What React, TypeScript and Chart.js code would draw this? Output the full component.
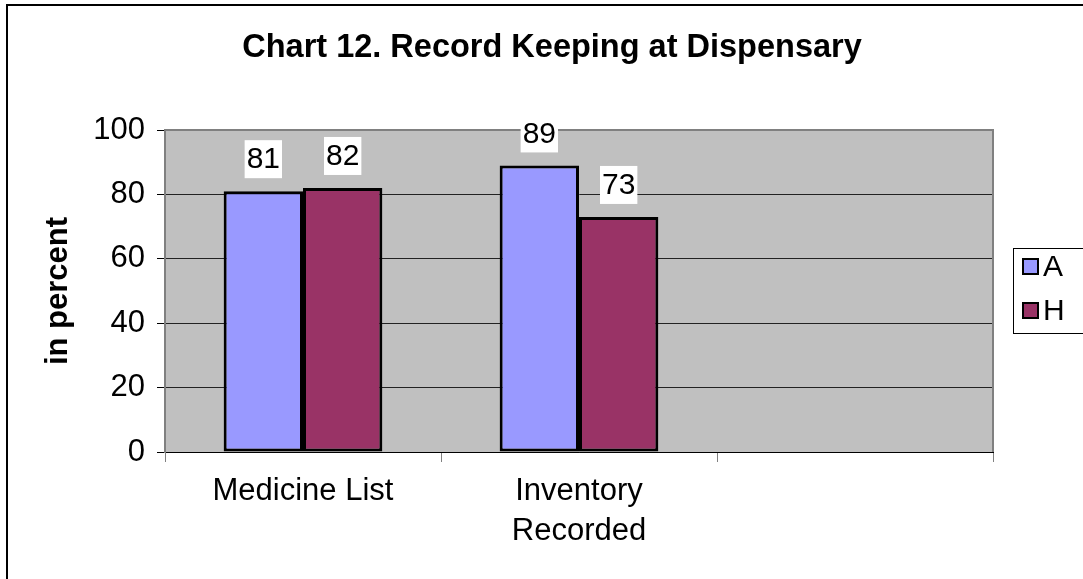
import React, { useEffect, useRef } from "react";
import { Chart, registerables } from "chart.js";

Chart.register(...registerables);

const categories: (string | string[])[] = [["Medicine List"], ["Inventory", "Recorded"], ""];
const seriesNames = ["A", "H"];
const valuesA = [81, 89, null];
const valuesH = [82, 73, null];
const seriesColors = ["#9999FF", "#993366"];
const yMin = 0;
const yMax = 100;
const yStep = 20;
const titleText = "Chart 12. Record Keeping at Dispensary";
const yAxisTitle = "in percent";

const FONT = "'Liberation Sans', Arial, Helvetica, sans-serif";

const decor = {
  id: "decor",
  beforeDraw(chart: any) {
    const { ctx, chartArea: a } = chart;
    ctx.save();
    ctx.fillStyle = "#ffffff";
    ctx.fillRect(0, 0, chart.width, chart.height);
    ctx.fillStyle = "#C0C0C0";
    ctx.fillRect(a.left, a.top, a.right - a.left, a.bottom - a.top);
    // outer frame (left + top)
    ctx.strokeStyle = "#000";
    ctx.lineWidth = 2;
    ctx.beginPath();
    ctx.moveTo(7, chart.height);
    ctx.lineTo(7, 5);
    ctx.lineTo(chart.width, 5);
    ctx.stroke();
    // title
    ctx.fillStyle = "#000";
    ctx.font = `bold 32.5px ${FONT}`;
    ctx.textAlign = "center";
    ctx.textBaseline = "middle";
    ctx.fillText(titleText, 552, 48);
    ctx.restore();
  },
  beforeDatasetsDraw(chart: any) {
    const { ctx, chartArea: a } = chart;
    ctx.save();
    ctx.strokeStyle = "#808080";
    ctx.lineWidth = 2;
    ctx.beginPath();
    ctx.moveTo(a.left, a.top);
    ctx.lineTo(a.right, a.top);
    ctx.lineTo(a.right, a.bottom);
    ctx.stroke();
    ctx.restore();
  },
  afterDatasetsDraw(chart: any) {
    const { ctx } = chart;
    ctx.save();
    ctx.font = `30px ${FONT}`;
    ctx.textAlign = "center";
    ctx.textBaseline = "middle";
    chart.data.datasets.forEach((ds: any, di: number) => {
      const meta = chart.getDatasetMeta(di);
      meta.data.forEach((el: any, i: number) => {
        const v = ds.data[i];
        if (v === null || v === undefined) return;
        const cx = el.x;
        const cy = el.y - 32;
        const txt = String(v);
        const w = ctx.measureText(txt).width + 4;
        ctx.fillStyle = "#fff";
        ctx.fillRect(cx - w / 2, cy - 19, w, 38);
        ctx.fillStyle = "#000";
        ctx.fillText(txt, cx, cy + 1);
      });
    });
    ctx.restore();
  },
  afterDraw(chart: any) {
    const { ctx } = chart;
    ctx.save();
    // legend box
    ctx.fillStyle = "#fff";
    ctx.fillRect(1013, 248, 70, 85);
    ctx.strokeStyle = "#000";
    ctx.lineWidth = 1;
    ctx.strokeRect(1013.5, 248.5, 70, 85);
    ctx.font = `30px ${FONT}`;
    ctx.textAlign = "left";
    ctx.textBaseline = "middle";
    const rowsY = [267, 311];
    chart.data.datasets.forEach((ds: any, i: number) => {
      const y = rowsY[i];
      ctx.fillStyle = ds.backgroundColor;
      ctx.fillRect(1023, y - 8, 15, 15);
      ctx.strokeStyle = "#000";
      ctx.lineWidth = 2;
      ctx.strokeRect(1023, y - 8, 15, 15);
      ctx.fillStyle = "#000";
      ctx.fillText(ds.label, 1043, y + 1);
    });
    ctx.restore();
  },
};

export default function App() {
  const ref = useRef<HTMLCanvasElement | null>(null);

  useEffect(() => {
    if (!ref.current) return;
    const chart = new Chart(ref.current, {
      type: "bar",
      data: {
        labels: categories,
        datasets: [
          {
            label: seriesNames[0],
            data: valuesA,
            backgroundColor: seriesColors[0],
            borderColor: "#000",
            borderWidth: 3,
            borderSkipped: false,
            categoryPercentage: 0.575,
            barPercentage: 1,
          },
          {
            label: seriesNames[1],
            data: valuesH,
            backgroundColor: seriesColors[1],
            borderColor: "#000",
            borderWidth: 3,
            borderSkipped: false,
            categoryPercentage: 0.575,
            barPercentage: 1,
          },
        ],
      },
      options: {
        responsive: false,
        animation: false,
        layout: { padding: { left: 0, right: 90, top: 130, bottom: 0 } },
        plugins: {
          legend: { display: false },
          title: { display: false },
          tooltip: { enabled: false },
        },
        scales: {
          x: {
            afterFit: (s: any) => {
              s.height = 127;
            },
            grid: {
              offset: true,
              drawOnChartArea: false,
              drawTicks: true,
              tickLength: 10,
              tickColor: "#808080",
              color: "#808080",
            },
            border: { display: true, color: "#000", width: 1 },
            ticks: {
              autoSkip: false,
              maxRotation: 0,
              minRotation: 0,
              padding: 9,
              color: "#000",
              font: { family: FONT, size: 31, lineHeight: 1.3 },
            },
          },
          y: {
            min: yMin,
            max: yMax,
            afterFit: (s: any) => {
              s.width = 165;
            },
            grid: {
              color: (c: any) =>
                c.tick && c.tick.value === 0 ? "#000" : c.tick && c.tick.value === yMax ? "rgba(0,0,0,0)" : "#222",
              lineWidth: 1,
              tickLength: 8,
              tickColor: "#000",
            },
            border: { display: true, color: "#808080", width: 2 },
            ticks: {
              stepSize: yStep,
              padding: 12,
              color: "#000",
              font: { family: FONT, size: 31 },
            },
            title: {
              display: true,
              text: yAxisTitle,
              color: "#000",
              font: { family: FONT, size: 31, weight: "bold" },
              padding: { top: 40, bottom: 0 },
            },
          },
        },
      },
      plugins: [decor],
    });
    return () => chart.destroy();
  }, []);

  return (
    <div style={{ position: "fixed", left: 0, top: 0, width: 1083, height: 579, background: "#fff" }}>
      <canvas ref={ref} width={1083} height={579} style={{ display: "block" }} />
    </div>
  );
}
